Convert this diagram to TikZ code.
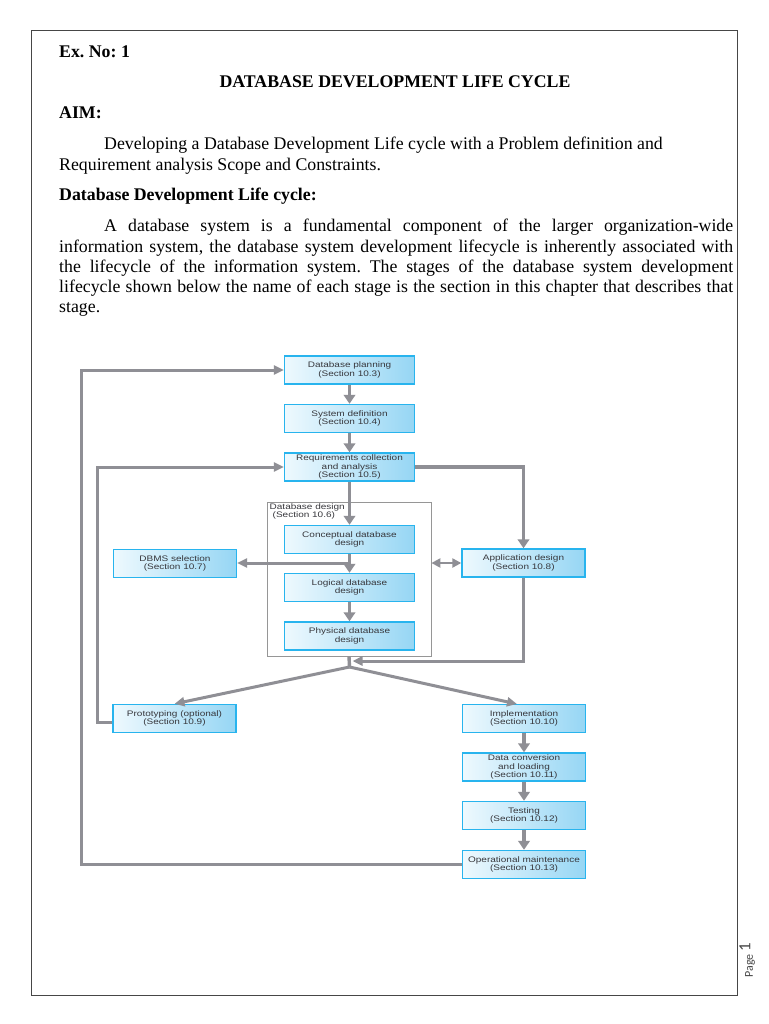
\documentclass[tikz,border=0pt]{standalone}
\usepackage{fontspec}
\setmainfont{Liberation Serif}
\newfontfamily\boxfont[FakeStretch=1.25]{Liberation Sans}
\newfontfamily\pagefont{Carlito}
\usetikzlibrary{arrows.meta,calc}
\definecolor{flowgray}{RGB}{143,143,149}
\definecolor{boxline}{RGB}{40,180,238}
\definecolor{boxleft}{RGB}{238,249,254}
\definecolor{boxright}{RGB}{150,214,244}
\definecolor{boxtext}{RGB}{55,55,60}
\definecolor{framegray}{RGB}{150,150,150}
\definecolor{pageline}{RGB}{70,70,70}
\frenchspacing
\begin{document}
\begin{tikzpicture}[x=1pt,y=-1pt,
  stage/.style={draw=boxline, line width=1.4pt, left color=boxleft, right color=boxright,
    minimum width=130pt, minimum height=28pt, inner sep=0pt, align=center,
    font=\boxfont\fontsize{8}{8.3}\selectfont, text=boxtext},
  sidestage/.style={stage, minimum width=123pt},
  flow/.style={draw=flowgray, line width=3.6pt, -{Triangle[length=9pt,width=11.5pt]}},
  backline/.style={draw=flowgray, line width=3pt, -{Triangle[length=10pt,width=9pt]}},
  plainline/.style={draw=flowgray, line width=3pt},
  txt/.style={anchor=base west, inner sep=0pt, font=\fontsize{17.8}{20.3}\selectfont}]
\useasboundingbox (0,0) rectangle (768,1024);
\fill[white] (0,0) rectangle (768,1024);
\draw[pageline, line width=1pt] (31,31) rectangle (737,995);

% ---- text ----
\node[txt] (exno) at (59,58) {\bfseries Ex. No: 1};
\node[anchor=base, inner sep=0pt, font=\fontsize{17.8}{20.3}\selectfont\bfseries] (title) at (395,88) {DATABASE DEVELOPMENT LIFE CYCLE};
\node[txt] (aim) at (59,119) {\bfseries AIM:};
\node[txt] (aim1) at (104,150) {Developing a Database Development Life cycle with a Problem definition and};
\node[txt] (aim2) at (59,170.5) {Requirement analysis Scope and Constraints.};
\node[txt] (ddlc) at (59,201) {\bfseries Database Development Life cycle:};
\node[txt] (p1) at (104,232) {\makebox[629pt][s]{A database system is a fundamental component of the larger organization-wide}};
\node[txt] (p2) at (59,252) {\makebox[674pt][s]{information system, the database system development lifecycle is inherently associated with}};
\node[txt] (p3) at (59,272) {\makebox[674pt][s]{the lifecycle of the information system. The stages of the database system development}};
\node[txt] (p4) at (59,292) {\makebox[674pt][s]{lifecycle shown below the name of each stage is the section in this chapter that describes that}};
\node[txt] (p5) at (59,312) {stage.};

% ---- diagram ----
\node[draw=framegray, line width=0.8pt, minimum width=164pt, minimum height=154pt, inner sep=0pt] (designbox) at (349,579) {};
\node[anchor=north west, inner sep=0pt, align=left, font=\boxfont\fontsize{8}{8.3}\selectfont, text=boxtext] (designlbl) at (269.5,503.5) {Database design\\\hspace*{3pt}(Section 10.6)};

\node[stage] (plan) at (349.5,370) {Database planning\\(Section 10.3)};
\node[stage] (sysdef) at (349.5,418.5) {System definition\\(Section 10.4)};
\node[stage] (req) at (349.5,467) {Requirements collection\\and analysis\\(Section 10.5)};
\node[stage] (concept) at (349.5,539.5) {Conceptual database\\design};
\node[stage] (logical) at (349.5,587.5) {Logical database\\design};
\node[stage] (physical) at (349.5,636) {Physical database\\design};
\node[sidestage] (dbms) at (175,563.5) {DBMS selection\\(Section 10.7)};
\node[sidestage] (appdes) at (523.5,563) {Application design\\(Section 10.8)};
\node[sidestage] (proto) at (174.5,718.5) {Prototyping (optional)\\(Section 10.9)};
\node[sidestage] (impl) at (524,718.5) {Implementation\\(Section 10.10)};
\node[sidestage] (dataconv) at (524,767) {Data conversion\\and loading\\(Section 10.11)};
\node[sidestage] (testing) at (524,815.5) {Testing\\(Section 10.12)};
\node[sidestage] (opmaint) at (524,864.5) {Operational maintenance\\(Section 10.13)};

\coordinate (stem) at (349.5,563);
\coordinate (fork) at (349.5,667);
\coordinate (joinpt) at (352.5,661);
\coordinate (outerx) at (81,600);
\coordinate (innerx) at (97.5,600);
\coordinate (implin) at (517,704);

\draw[flow] (plan) -- (sysdef);
\draw[flow] (sysdef) -- (req);
\draw[flow] (req) -- (concept);
\draw[flow] (concept) -- (logical);
\draw[flow] (logical) -- (physical);
\draw[backline] (stem) -- (stem -| dbms.east);
\draw[draw=flowgray, line width=2.6pt, {Triangle[length=9pt,width=9pt]}-{Triangle[length=9pt,width=9pt]}] (designbox.east |- appdes.west) -- (appdes.west);
\draw[flow] (req.east) -| (appdes.north);
\draw[backline] (appdes.south) |- (joinpt);
\draw[plainline, line width=3.4pt] (designbox.south) -- (fork);
\draw[backline] (fork) -- (proto.north);
\draw[backline] (fork) -- (implin);
\draw[flow] (impl) -- (dataconv);
\draw[flow] (dataconv) -- (testing);
\draw[flow] (testing) -- (opmaint);
\draw[backline] (opmaint.west) -| (outerx) |- (plan.west);
\draw[backline] ($(proto.west)+(0,3.5)$) -| (innerx) |- (req.west);

% ---- page number ----
\node[rotate=90, inner sep=0pt, font=\pagefont\fontsize{12}{12}\selectfont, text=pageline] (pglbl) at (750,966) {Page};
\node[rotate=90, inner sep=0pt, font=\pagefont\fontsize{17}{17}\selectfont, text=pageline] (pgnum) at (745,947) {1};
\end{tikzpicture}
\end{document}
